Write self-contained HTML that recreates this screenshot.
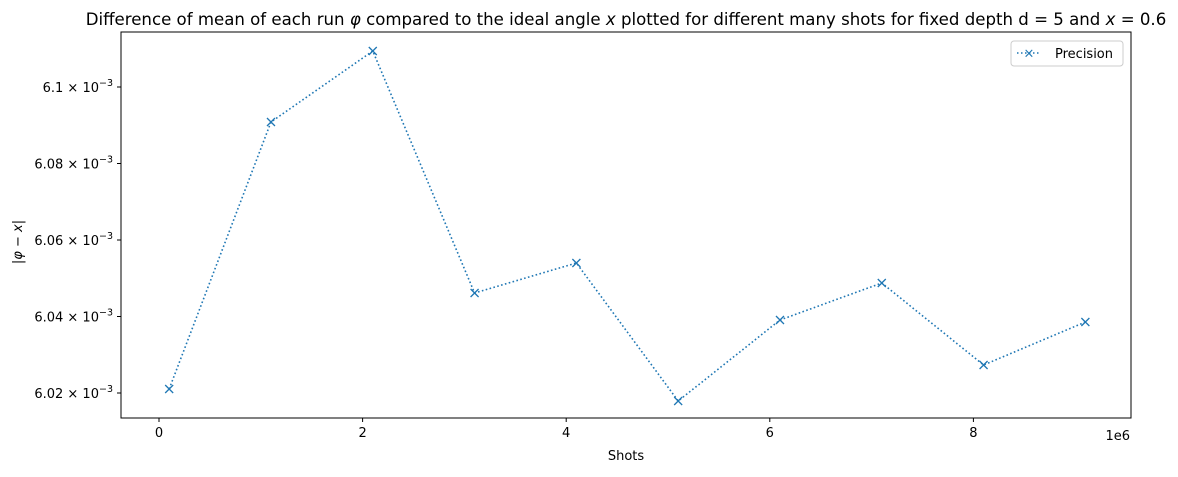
<!DOCTYPE html>
<html><head><meta charset="utf-8"><style>
body{margin:0;background:#fff;}
svg{font-family:"DejaVu Sans","Liberation Sans",sans-serif;}
</style></head><body>
<svg id="chart" width="1178" height="472" viewBox="0 0 1178 472">
<text x="626" y="25" font-size="16.6" text-anchor="middle">Difference of mean of each run <tspan font-style="italic">φ</tspan> compared to the ideal angle <tspan font-style="italic">x</tspan> plotted for different many shots for fixed depth d = 5 and <tspan font-style="italic">x</tspan> = 0.6</text>
<g id="axes"></g>
<g id="series"></g>
<rect x="121" y="32" width="1010" height="386" fill="none" stroke="#000" stroke-width="1"/>
<text x="626" y="460" font-size="13" text-anchor="middle">Shots</text>
<text x="1130" y="440" font-size="13" text-anchor="end">1e6</text>
<text transform="translate(22,242) rotate(-90)" font-size="13" text-anchor="middle">|<tspan font-style="italic">φ</tspan> − <tspan font-style="italic">x</tspan>|</text>
<g>
<rect x="1011" y="41" width="112" height="25" rx="3" fill="#fff" stroke="#ccc"/>
<line x1="1017" y1="53" x2="1041" y2="53" stroke="#1f77b4" stroke-width="1.5" stroke-dasharray="1.5,2.5"/>
<text x="1029" y="57.5" font-size="13" fill="#1f77b4" text-anchor="middle">×</text>
<text x="1055" y="58" font-size="13">Precision</text>
</g>
</svg>
<script>
const shots=[0.1,1.1,2.1,3.1,4.1,5.1,6.1,7.1,8.1,9.1];
const precision=[6.02105,6.09085,6.10941,6.04614,6.05399,6.01791,6.03908,6.04876,6.02732,6.03856];
const xTicks=[0,2,4,6,8];
const yTicks=[6.02,6.04,6.06,6.08,6.1];
const yTickLabels=["6.02","6.04","6.06","6.08","6.1"];
const NS="http://www.w3.org/2000/svg";
const xs=v=>159+v*101.8;
const ys=v=>393-(v-6.02)/0.02*76.5;
const axes=document.getElementById('axes'),ser=document.getElementById('series');
function mk(tag,attrs,parent){const e=document.createElementNS(NS,tag);for(const k in attrs)e.setAttribute(k,attrs[k]);parent.appendChild(e);return e;}
xTicks.forEach(t=>{
 const x=xs(t);
 const l=mk('line',{x1:x,y1:418,x2:x,y2:422,stroke:'#000'},axes);
 
 
 const tx=mk('text',{x:x,y:437,'font-size':13,'text-anchor':'middle'},axes);
 tx.textContent=t;
 
 
});
yTicks.forEach((t,i)=>{
 const y=ys(t);
 const l=mk('line',{x1:117,y1:y,x2:121,y2:y,stroke:'#000'},axes);
 
 
 const tx=mk('text',{x:113,y:y+5,'font-size':13,'text-anchor':'end'},axes);
 tx.innerHTML=yTickLabels[i]+' × 10<tspan dy="-6" font-size="9.5">−3</tspan>';
 
 
});
const pts=shots.map((s,i)=>xs(s)+','+ys(precision[i])).join(' ');
const pl=mk('polyline',{points:pts,fill:'none',stroke:'#1f77b4','stroke-width':1.6,'stroke-dasharray':'1.6,2.4'},ser);


shots.forEach((s,i)=>{
 const x=xs(s),y=ys(precision[i]);
 const m=mk('path',{d:`M${x-4},${y-4}L${x+4},${y+4}M${x-4},${y+4}L${x+4},${y-4}`,stroke:'#1f77b4','stroke-width':1.3},ser);
 
 
});
</script>
</body></html>
